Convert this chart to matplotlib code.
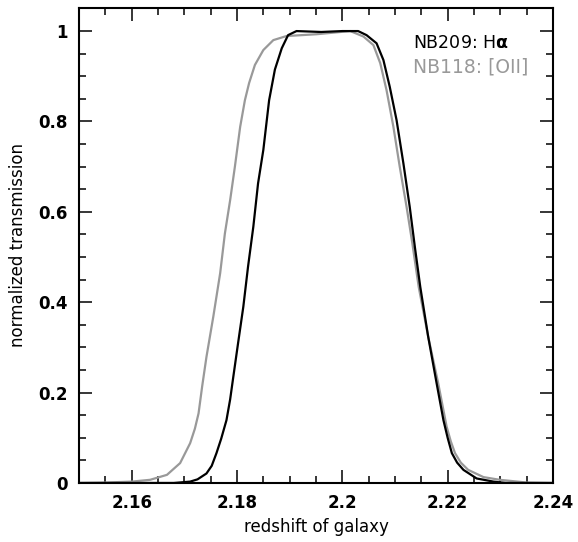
"""
Narrow-band filter transmission curves (NB209 Halpha, NB118 [OII])
expressed as a function of galaxy redshift.
"""

import matplotlib
matplotlib.use("Agg")
import matplotlib.pyplot as plt
from matplotlib.ticker import MultipleLocator, FuncFormatter

# ==========================================
# DATA
# ==========================================
z_nb209 = [2.1500, 2.1680, 2.1711, 2.1725, 2.1742, 2.1752, 2.1761, 2.1770,
           2.1780, 2.1787, 2.1793, 2.1802, 2.1812, 2.1821, 2.1831, 2.1840,
           2.1850, 2.1861, 2.1872, 2.1885, 2.1897, 2.1913, 2.1960, 2.2000,
           2.2030, 2.2046, 2.2065, 2.2078, 2.2090, 2.2103, 2.2116, 2.2128,
           2.2138, 2.2148, 2.2163, 2.2179, 2.2192, 2.2200, 2.2208, 2.2218,
           2.2230, 2.2255, 2.2287, 2.2310, 2.2400]
t_nb209 = [0.0, 0.0, 0.003, 0.008, 0.021, 0.038, 0.066, 0.098,
           0.139, 0.185, 0.235, 0.309, 0.390, 0.479, 0.567, 0.663,
           0.737, 0.847, 0.915, 0.962, 0.991, 1.0, 0.998, 1.0,
           1.0, 0.991, 0.973, 0.936, 0.877, 0.803, 0.707, 0.611,
           0.520, 0.434, 0.324, 0.221, 0.139, 0.100, 0.066, 0.045,
           0.029, 0.010, 0.003, 0.0, 0.0]

z_nb118 = [2.1500, 2.1550, 2.1600, 2.1635, 2.1667, 2.1692, 2.1711, 2.1720,
           2.1727, 2.1734, 2.1742, 2.1755, 2.1768, 2.1777, 2.1787, 2.1796,
           2.1806, 2.1815, 2.1823, 2.1834, 2.1850, 2.1869, 2.1894, 2.1951,
           2.2015, 2.2040, 2.2059, 2.2072, 2.2084, 2.2097, 2.2109, 2.2122,
           2.2133, 2.2145, 2.2163, 2.2182, 2.2198, 2.2206, 2.2214, 2.2225,
           2.2239, 2.2268, 2.2299, 2.2350, 2.2400]
t_nb118 = [0.0, 0.001, 0.003, 0.007, 0.018, 0.044, 0.088, 0.120,
           0.154, 0.215, 0.279, 0.368, 0.464, 0.552, 0.626, 0.700,
           0.788, 0.847, 0.885, 0.925, 0.958, 0.980, 0.989, 0.993,
           1.0, 0.988, 0.969, 0.929, 0.869, 0.788, 0.700, 0.611,
           0.530, 0.434, 0.324, 0.221, 0.125, 0.092, 0.066, 0.045,
           0.029, 0.013, 0.007, 0.001, 0.0]

labels = [r"NB209: H$\mathbf{\alpha}$", "NB118: [OII]"]
colors = ["black", "#999999"]


def main():
    fig = plt.figure(figsize=(5.78, 5.42), dpi=100)
    ax = fig.add_axes([0.1367, 0.1089, 0.82, 0.8763])

    ax.plot(z_nb118, t_nb118, color=colors[1], lw=1.6, solid_joinstyle="round")
    ax.plot(z_nb209, t_nb209, color=colors[0], lw=1.6, solid_joinstyle="round")

    ax.set_xlim(2.15, 2.24)
    ax.set_ylim(0, 1.051)

    ax.xaxis.set_major_locator(MultipleLocator(0.02))
    ax.xaxis.set_minor_locator(MultipleLocator(0.005))
    ax.yaxis.set_major_locator(MultipleLocator(0.2))
    ax.yaxis.set_minor_locator(MultipleLocator(0.05))
    fmt = FuncFormatter(lambda v, p: "%g" % round(v, 3))
    ax.xaxis.set_major_formatter(fmt)
    ax.yaxis.set_major_formatter(fmt)

    ax.tick_params(which="both", direction="in", top=True, right=True,
                   width=1.1, labelsize=12)
    ax.tick_params(which="major", length=9.5, pad=8)
    ax.tick_params(which="minor", length=5)
    for lab in ax.get_xticklabels() + ax.get_yticklabels():
        lab.set_fontweight("bold")
    for spine in ax.spines.values():
        spine.set_linewidth(1.5)

    ax.set_xlabel("redshift of galaxy", fontsize=12, labelpad=4)
    ax.set_ylabel("normalized transmission", fontsize=12, labelpad=8)

    ax.text(0.705, 0.926, labels[0], color=colors[0], fontsize=12.5,
            ha="left", va="center", transform=ax.transAxes)
    ax.text(0.705, 0.876, labels[1], color=colors[1], fontsize=13.5,
            ha="left", va="center", transform=ax.transAxes)

    fig.savefig("out.png", dpi=100)
    plt.close(fig)


if __name__ == "__main__":
    main()
